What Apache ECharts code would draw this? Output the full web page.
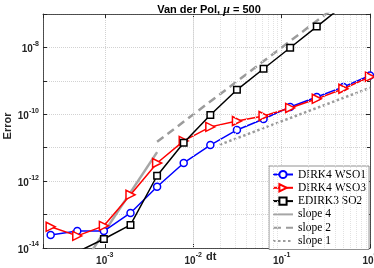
<!DOCTYPE html>
<html>
<head>
<meta charset="utf-8">
<script src="https://cdn.jsdelivr.net/npm/echarts@6/dist/echarts.min.js"></script>
<style>html,body{margin:0;padding:0;background:#fff}#c{width:374px;height:268px}</style>
</head>
<body>
<div id="c"></div>
<script>
// step sizes dt = 2^-k
const dt = [1, 0.5, 0.25, 0.125, 0.0625, 0.03125, 0.015625, 0.0078125, 0.00390625, 0.001953125, 0.0009765625, 0.00048828125, 0.000244140625];
const errWSO1 = [1.45e-9, 6.6e-10, 3.3e-10, 1.66e-10, 7.2e-11, 3.4e-11, 1.2e-11, 3.5e-12, 6.8e-13, 1.12e-13, 3.2e-14, 3.2e-14, 2.45e-14];
const errWSO3 = [1.32e-9, 5.8e-10, 2.9e-10, 1.55e-10, 8.9e-11, 6.3e-11, 4.2e-11, 1.6e-11, 3.5e-12, 3.9e-13, 4.6e-14, 2.3e-14, 4.3e-14];
const errSO2 = [7.9e-7, 1.8e-7, 4.2e-8, 9.8e-9, 2.3e-9, 5.4e-10, 9.5e-11, 1.4e-11, 1.45e-12, 4.9e-14, 1.86e-14, 7.6e-15];
const slope4Dt = [0.00048828125, 0.00390625];
const slope4Err = [1.8e-15, 7.4e-12];
const slope2Dt = [0.00390625, 1];
const slope2Err = [1.5e-11, 1e-6];
const slope1Dt = [0.02, 1];
const slope1Err = [1.23e-11, 6.2e-10];
const seriesNames = ['DIRK4 WSO1', 'DIRK4 WSO3', 'EDIRK3 SO2', 'slope 4', 'slope 2', 'slope 1'];
const xTickExps = [-3, -2, -1, 0];
const yTickExps = [-14, -12, -10, -8];
const titleText = 'Van der Pol, ';
const titleSymbol = 'μ';
const titleTail = ' = 500';
const xName = 'dt';
const yName = 'Error';

function pairs(xs, ys) { return ys.map((v, i) => [xs[i], v]); }

// minor grid positions (decoration)
const minorX = [], minorY = [];
for (let e = -4; e <= -1; e++) for (let m = 2; m <= 9; m++) { const v = m * Math.pow(10, e); if (v > 2e-4 && v < 1) minorX.push({xAxis: v}); }
for (let e = -14; e <= -8; e++) for (let m = 2; m <= 9; m++) { minorY.push({yAxis: m * Math.pow(10, e)}); }

const axisColor = '#262626';
const rich = {
  b: {fontFamily: 'Liberation Sans', fontWeight: 'bold', fontSize: 10, color: axisColor, verticalAlign: 'bottom', lineHeight: 14},
  s: {fontFamily: 'Liberation Sans', fontWeight: 'bold', fontSize: 7, color: axisColor, verticalAlign: 'top', lineHeight: 14}
};
function expLabel(v, list) {
  const e = Math.round(Math.log10(v));
  if (Math.abs(Math.log10(v) - e) > 1e-6 || list.indexOf(e) < 0) return '';
  return '{b|10}{s|' + e + '}';
}

const chart = echarts.init(document.getElementById('c'), null, {renderer: 'canvas'});
const xBase = {type: 'log', logBase: 10, min: 2e-4, max: 1, gridIndex: 0};
const yBase = {type: 'log', logBase: 10, min: 1e-14, max: 1e-7, interval: 1, gridIndex: 0};
const slopeLegendStyle = {itemStyle: {opacity: 0}};
chart.setOption({
  animation: false,
  backgroundColor: '#fff',
  title: {
    text: '{a|' + titleText + '}{m|' + titleSymbol + '}{a|' + titleTail + '}',
    left: 204, top: -1, textAlign: 'center',
    textStyle: {rich: {
      a: {fontFamily: 'Liberation Sans', fontWeight: 'bold', fontSize: 11, color: '#000'},
      m: {fontFamily: 'Liberation Serif', fontStyle: 'italic', fontWeight: 'bold', fontSize: 12, color: '#000'}
    }}
  },
  graphic: [
    {type: 'text', left: 206, top: 251, silent: true,
      style: {text: xName, font: 'bold 11px "Liberation Sans"', fill: axisColor}},
    {type: 'text', x: 8, y: 126, rotation: Math.PI / 2, silent: true,
      style: {text: yName, font: 'bold 11px "Liberation Sans"', fill: axisColor, align: 'center', verticalAlign: 'middle'}}
  ],
  grid: {left: 43, right: 4, top: 14, bottom: 20, show: false, containLabel: false, outerBoundsMode: 'none'},
  legend: {
    data: [
      {name: seriesNames[0]}, {name: seriesNames[1]}, {name: seriesNames[2]},
      Object.assign({name: seriesNames[3]}, slopeLegendStyle),
      Object.assign({name: seriesNames[4]}, slopeLegendStyle),
      Object.assign({name: seriesNames[5]}, slopeLegendStyle)
    ],
    orient: 'vertical', left: 269, top: 166,
    itemWidth: 20, itemHeight: 9, itemGap: 0.3, padding: [2, 3, 2, 3],
    backgroundColor: '#fff', borderColor: '#777', borderWidth: 0.8,
    textStyle: {fontFamily: 'Liberation Serif', fontSize: 11.5, color: '#000', lineHeight: 13}
  },
  xAxis: [
    Object.assign({}, xBase, {
      position: 'bottom',
      axisLine: {onZero: false, lineStyle: {color: axisColor, width: 0.8}},
      axisTick: {inside: true, length: 4, lineStyle: {color: axisColor}},
      axisLabel: {margin: 4, formatter: v => expLabel(v, xTickExps), rich: rich, showMinLabel: true, hideOverlap: false},
      splitLine: {show: true, lineStyle: {color: '#d2d2d2', type: 'dotted', width: 1}}
    }),
    Object.assign({}, xBase, {
      position: 'top',
      axisLine: {onZero: false, lineStyle: {color: axisColor, width: 0.8}},
      axisTick: {inside: true, length: 4, lineStyle: {color: axisColor}},
      axisLabel: {show: false}, splitLine: {show: false}
    })
  ],
  yAxis: [
    Object.assign({}, yBase, {
      position: 'left',
      axisLine: {onZero: false, lineStyle: {color: axisColor, width: 0.8}},
      axisTick: {inside: true, length: 4, lineStyle: {color: axisColor}},
      axisLabel: {margin: 4, formatter: v => expLabel(v, yTickExps), rich: rich},
      splitLine: {show: true, lineStyle: {color: '#d2d2d2', type: 'dotted', width: 1}}
    }),
    Object.assign({}, yBase, {
      position: 'right',
      axisLine: {onZero: false, lineStyle: {color: axisColor, width: 0.8}},
      axisTick: {inside: true, length: 4, lineStyle: {color: axisColor}},
      axisLabel: {show: false}, splitLine: {show: false}
    })
  ],
  series: [
    {
      type: 'line', data: [], silent: true, z: 0,
      markLine: {silent: true, symbol: 'none', label: {show: false}, animation: false,
        lineStyle: {color: '#e2e2e2', type: 'dotted', width: 1}, data: minorX.concat(minorY)}
    },
    {
      name: seriesNames[0], type: 'line', data: pairs(dt, errWSO1), z: 3,
      symbol: 'circle', symbolSize: 7,
      lineStyle: {color: '#0000ff', width: 1.5},
      itemStyle: {color: '#fff', borderColor: '#0000ff', borderWidth: 1.5}
    },
    {
      name: seriesNames[1], type: 'line', data: pairs(dt, errWSO3), z: 4,
      symbol: 'triangle', symbolSize: 9, symbolRotate: -90,
      lineStyle: {color: '#ff0000', width: 1.5},
      itemStyle: {color: '#fff', borderColor: '#ff0000', borderWidth: 1.5}
    },
    {
      name: seriesNames[2], type: 'line', data: pairs(dt, errSO2), z: 5,
      symbol: 'rect', symbolSize: 6.5,
      lineStyle: {color: '#000', width: 1.5},
      itemStyle: {color: '#fff', borderColor: '#000', borderWidth: 1.5}
    },
    {
      name: seriesNames[3], type: 'line', data: pairs(slope4Dt, slope4Err), z: 2,
      symbol: 'none', lineStyle: {color: '#a6a6a6', width: 2.5, type: 'solid'}, itemStyle: {color: '#a6a6a6'}
    },
    {
      name: seriesNames[4], type: 'line', data: pairs(slope2Dt, slope2Err), z: 2,
      symbol: 'none', lineStyle: {color: '#9c9c9c', width: 2.5, type: [8, 5]}, itemStyle: {color: '#9c9c9c'}
    },
    {
      name: seriesNames[5], type: 'line', data: pairs(slope1Dt, slope1Err), z: 2,
      symbol: 'none', lineStyle: {color: '#9c9c9c', width: 2.5, type: [2.5, 2.5]}, itemStyle: {color: '#9c9c9c'}
    }
  ]
});
</script>
</body>
</html>
